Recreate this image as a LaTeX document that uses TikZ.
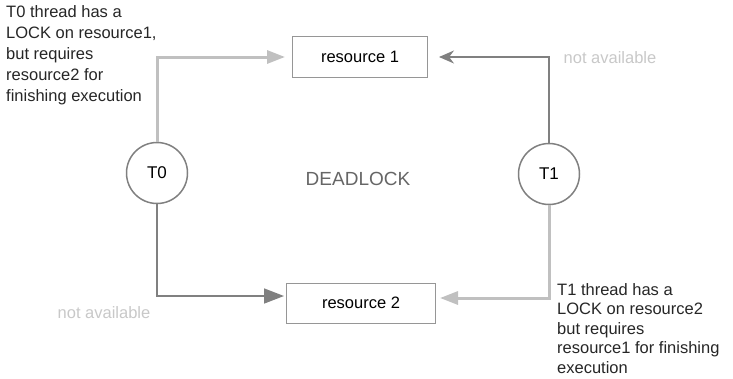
\documentclass[tikz,border=0pt]{standalone}
\usepackage{fontspec}
\setmainfont{Liberation Sans}
\usetikzlibrary{arrows.meta}

\definecolor{lockgray}{RGB}{192,192,192}
\definecolor{waitgray}{RGB}{128,128,128}
\definecolor{framegray}{RGB}{150,150,150}
\definecolor{fadedgray}{RGB}{200,200,200}

\begin{document}
\begin{tikzpicture}[x=1pt,y=-1pt,
  thread/.style={circle,draw=waitgray,line width=1.5pt,minimum size=61pt,inner sep=0pt,font=\fontsize{17}{20}\selectfont},
  resource/.style={rectangle,draw=framegray,line width=1pt,minimum height=41pt,font=\fontsize{16.5}{20}\selectfont},
  note/.style={align=left,anchor=north west,inner sep=0pt,text=black!85},
  faded/.style={text=fadedgray,font=\fontsize{16.5}{20}\selectfont},
  holds/.style={draw=lockgray,line width=3pt,-{Triangle[length=18pt,width=13pt]}},
  waits/.style={draw=waitgray,line width=1.6pt,-{Stealth[length=15pt,width=13pt]}}]

\useasboundingbox (0,0) rectangle (733,378);

\node[thread] (t0) at (157,173) {T0};
\node[thread] (t1) at (549,174) {T1};

\node[resource,minimum width=135pt] (res1) at (360,57) {resource 1};
\node[resource,minimum width=149pt,minimum height=40pt] (res2) at (361,303) {resource 2};

\node[text=black!60,font=\fontsize{19}{22}\selectfont] (deadlock) at (358,179) {DEADLOCK};

\node[note,font=\fontsize{16.5}{21}\selectfont] (note0) at (6,5) {T0 thread has a\\LOCK on resource1,\\but requires\\resource2 for\\finishing execution};
\node[note,font=\fontsize{16.5}{19.5}\selectfont] (note1) at (557,283) {T1 thread has a\\LOCK on resource2\\but requires\\resource1 for finishing\\execution};

\node[faded] (na1) at (610,58) {not available};
\node[faded] (na2) at (104,313) {not available};

\draw[holds,shorten >=7pt] (t0.north) |- (res1.west);
\draw[waits,shorten >=11pt] (t1.north) |- (res1.east);
\draw[waits,-{Triangle[length=20pt,width=15pt]},shorten >=2pt] (t0.south) |- ([yshift=7pt]res2.west);
\draw[holds,shorten >=4pt] (t1.south) |- ([yshift=5pt]res2.east);

\end{tikzpicture}
\end{document}
